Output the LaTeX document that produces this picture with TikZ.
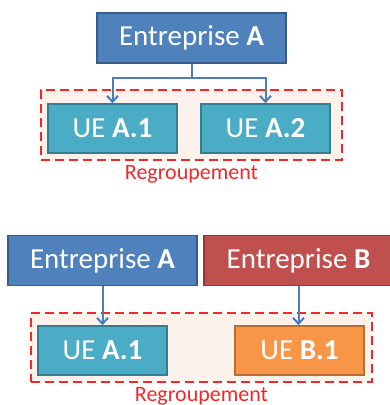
\documentclass[tikz,border=0pt]{standalone}
\usepackage{fontspec}
\setmainfont{Carlito}
\usetikzlibrary{arrows.meta}
\definecolor{entA}{HTML}{4F81BD}
\definecolor{entAline}{HTML}{385D8A}
\definecolor{entB}{HTML}{C0504D}
\definecolor{entBline}{HTML}{8C3836}
\definecolor{ueA}{HTML}{4BACC6}
\definecolor{ueAline}{HTML}{357D91}
\definecolor{ueB}{HTML}{F79646}
\definecolor{ueBline}{HTML}{B66D31}
\definecolor{grpfill}{HTML}{FDF1EC}
\definecolor{grpline}{HTML}{F02828}
\definecolor{linkcol}{HTML}{4A7EBB}
\tikzset{
  entbox/.style={draw=#1line,fill=#1,line width=1.5pt,text=white,
    minimum width=189pt,minimum height=50pt,inner sep=0pt,font=\fontsize{29}{33}\selectfont},
  uebox/.style={draw=#1line,fill=#1,line width=1.5pt,text=white,
    minimum width=129pt,minimum height=49pt,inner sep=0pt,font=\fontsize{29}{33}\selectfont},
  grpbox/.style={draw=grpline,fill=grpfill,line width=2pt,dash pattern=on 9pt off 5pt,
    inner sep=0pt},
  grplabel/.style={text=grpline,font=\fontsize{22}{26}\selectfont,inner sep=0pt},
  linkarrow/.style={draw=linkcol,line width=2pt,-{Straight Barb[length=6pt,width=11pt,line width=2pt]}}
}
\begin{document}
\begin{tikzpicture}[x=1pt,y=-1pt]
  \useasboundingbox (0,0) rectangle (390,405);
  % regroupement within one enterprise
  \node (grp1) [grpbox,minimum width=301pt,minimum height=70pt] at (191.5,125) {};
  \node (ent1) [entbox=entA] at (191.5,38) {Entreprise \textbf{A}};
  \node (ua1) [uebox=ueA] at (112.5,128.5) {UE \textbf{A.1}};
  \node (ua2) [uebox=ueA] at (265.5,128.5) {UE \textbf{A.2}};
  \node (lab1) [grplabel] at (191.5,174) {Regroupement};
  \coordinate (fork) at ([yshift=-14pt]ent1.south);
  \draw[linkarrow] (ent1.south) -- (fork) -| (ua1.north);
  \draw[linkarrow] (fork) -| (ua2.north);

  % regroupement across two enterprises
  \node (grp2) [grpbox,minimum width=341pt,minimum height=69pt] at (201.5,347.5) {};
  \node (ent2a) [entbox=entA] at (102.5,260.5) {Entreprise \textbf{A}};
  \node (ent2b) [entbox=entB] at (298.5,260.5) {Entreprise \textbf{B}};
  \node (ub1) [uebox=ueA] at (102.5,350.5) {UE \textbf{A.1}};
  \node (ub2) [uebox=ueB] at (299.5,350.5) {UE \textbf{B.1}};
  \node (lab2) [grplabel] at (201.5,396) {Regroupement};
  \draw[linkarrow] (ent2a.south) -- (ub1.north);
  \draw[linkarrow] (ent2b.south) -- (ent2b.south |- ub2.north);
\end{tikzpicture}
\end{document}
